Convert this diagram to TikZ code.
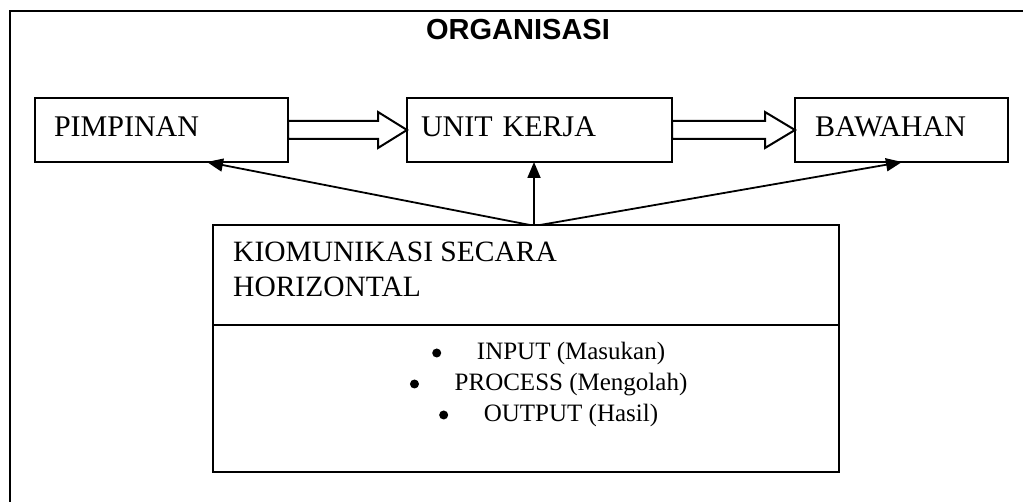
\documentclass[tikz,border=0pt]{standalone}
\usepackage{fontspec}
\setmainfont{Liberation Serif}
\newfontfamily\titlefont{Liberation Sans}
\usetikzlibrary{arrows.meta,calc}
\begin{document}
\begin{tikzpicture}[x=1pt,y=-1pt,
  topbox/.style={draw,line width=2pt,outer sep=0pt,minimum width=#1,minimum height=64pt,
    inner xsep=0pt,inner ysep=0pt,text height=20pt,text depth=6pt,
    font=\fontsize{30}{35}\selectfont},
  framebox/.style={draw,line width=2pt,outer sep=0pt},
  itemtext/.style={inner sep=0pt,anchor=base,font=\fontsize{25}{31}\selectfont},
  blockarrow/.style={draw,line width=2pt,fill=white,line join=miter},
  thinarrow/.style={line width=1.8pt,-{Triangle[length=16pt,width=13pt]}}
]
\useasboundingbox (0,0) rectangle (1023,502);
% outer frame (cropped at right and bottom)
\draw[line width=2.4pt] (10,502) -- (10,11) -- (1023,11);
% title
\node[inner sep=0pt,anchor=base,font=\titlefont\bfseries\fontsize{29}{34}\selectfont] (title) at (518,40) {ORGANISASI};

% top boxes
\node[topbox=253pt,text width=215pt,align=left] (p) at (161.5,130) {PIMPINAN};
\node[topbox=265pt,text width=237pt,align=left] (u) at (539.5,130) {UNIT KERJA};
\node[topbox=213pt,text width=173pt,align=left] (b) at (901.5,130) {BAWAHAN};

% block arrows
\draw[blockarrow] ($(p.east)+(0,-9)$) -- (378,121) -- (378,112) -- (u.west) -- (378,148) -- (378,139) -- ($(p.east)+(0,9)$) -- cycle;
\draw[blockarrow] ($(u.east)+(0,-9)$) -- (765,121) -- (765,112) -- (b.west) -- (765,148) -- (765,139) -- ($(u.east)+(0,9)$) -- cycle;

% lower box
\node[framebox,minimum width=626pt,minimum height=247pt,inner sep=0pt] (k) at (526,348.5) {};
\draw[line width=2pt] (k.west |- 0,325) -- (k.east |- 0,325);
\node[inner sep=0pt,anchor=base west,align=left,font=\fontsize{29.5}{35}\selectfont] (kt) at (233,297) {KIOMUNIKASI SECARA\\HORIZONTAL};

\node[itemtext] (i1) at (571,360) {INPUT (Masukan)};
\node[itemtext] (i2) at (571,391) {PROCESS (Mengolah)};
\node[itemtext] (i3) at (571,422) {OUTPUT (Hasil)};
\foreach \n in {i1,i2,i3} \fill ($(\n.base west)+(-40,-7)$) circle (4.5pt);

% thin arrows
\coordinate (kc) at (534,225);
\coordinate (kl) at (530,225);
\coordinate (kr) at (540,225);
\coordinate (ut) at (534,162);
\coordinate (pt) at (207,162);
\coordinate (bt) at (902,162);
\draw[thinarrow] (kc) -- (ut);
\draw[thinarrow] (kl) -- (pt);
\draw[thinarrow] (kr) -- (bt);
\end{tikzpicture}
\end{document}
